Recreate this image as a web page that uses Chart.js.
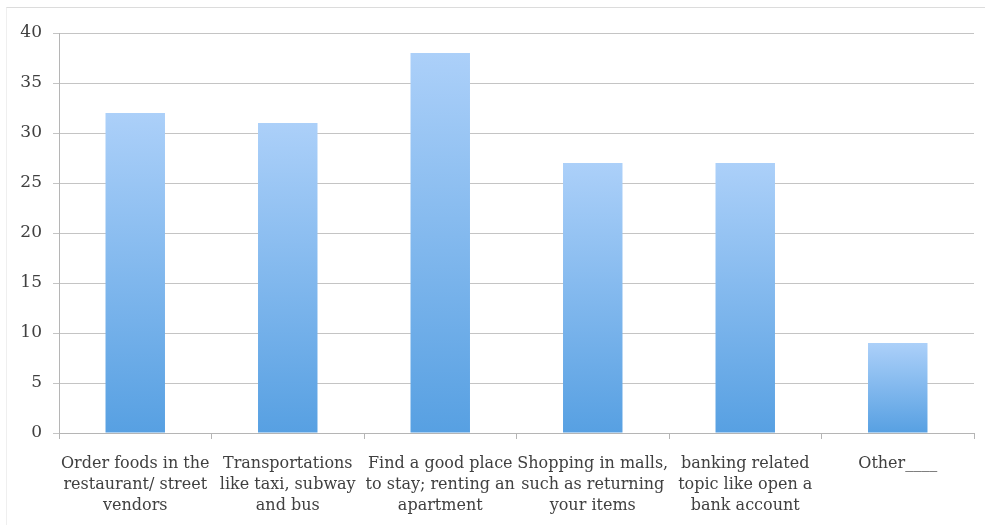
<!DOCTYPE html>
<html>
<head>
<meta charset="utf-8">
<script src="https://cdn.jsdelivr.net/npm/chart.js@4/dist/chart.umd.min.js"></script>
<style>
  html, body { margin: 0; padding: 0; background: #fff; }
  #wrap { position: absolute; left: 0; top: 0; width: 985px; height: 525px; }
  #frame { position: absolute; left: 6px; top: 7px; width: 979px; height: 518px;
           border-top: 1px solid #dcdcdc; border-left: 1px solid #efefef; box-sizing: border-box; }
  canvas { position: absolute; left: 0; top: 0; }
</style>
</head>
<body>
<div id="wrap">
  <div id="frame"></div>
  <canvas id="c" width="985" height="525"></canvas>
</div>
<script>
const categories = [
  ["Order foods in the", "restaurant/ street", "vendors"],
  ["Transportations", "like taxi, subway", "and bus"],
  ["Find a good place", "to stay; renting an", "apartment"],
  ["Shopping in malls,", "such as returning", "your items"],
  ["banking related", "topic like open a", "bank account"],
  ["Other____"]
];
const responses = [32, 31, 38, 27, 27, 9];
const yTicks = [0, 5, 10, 15, 20, 25, 30, 35, 40];

const FONT = "'DejaVu Serif', 'Liberation Serif', serif";

// Each bar gets its own vertical gradient, light at the top, deeper blue at the base.
function barGradient(ctx) {
  const chart = ctx.chart;
  if (!chart.chartArea || ctx.parsed == null) return '#84b8ee';
  const y = chart.scales.y;
  const top = y.getPixelForValue(ctx.parsed.y);
  const base = y.getPixelForValue(0);
  const g = chart.ctx.createLinearGradient(0, top, 0, base);
  g.addColorStop(0, '#acd0f9');
  g.addColorStop(1, '#57a0e2');
  return g;
}

new Chart(document.getElementById('c'), {
  type: 'bar',
  data: {
    labels: categories,
    datasets: [{
      data: responses,
      backgroundColor: barGradient,
      borderWidth: 0,
      categoryPercentage: 1,
      barPercentage: 0.39
    }]
  },
  options: {
    responsive: false,
    animation: false,
    events: [],
    layout: { padding: { left: 0, right: 11, top: 33, bottom: 0 } },
    plugins: { legend: { display: false }, tooltip: { enabled: false } },
    scales: {
      x: {
        afterFit: (axis) => { axis.height = 92; },
        grid: { display: true, drawOnChartArea: false, drawTicks: true, tickLength: 6,
                color: '#b5b5b5', offset: true },
        border: { display: true, color: '#b5b5b5', width: 1 },
        ticks: { color: '#404040', font: { family: FONT, size: 16, lineHeight: 1.32 },
                 maxRotation: 0, autoSkip: false, padding: 14 }
      },
      y: {
        min: 0, max: 40,
        afterFit: (axis) => { axis.width = 59; },
        afterBuildTicks: (axis) => { axis.ticks = yTicks.map(v => ({ value: v })); },
        grid: { color: '#c4c4c4', lineWidth: 1, tickLength: 6 },
        border: { display: true, color: '#b5b5b5', width: 1 },
        ticks: { color: '#404040', font: { family: FONT, size: 17 }, padding: 11 }
      }
    }
  }
});
</script>
</body>
</html>
